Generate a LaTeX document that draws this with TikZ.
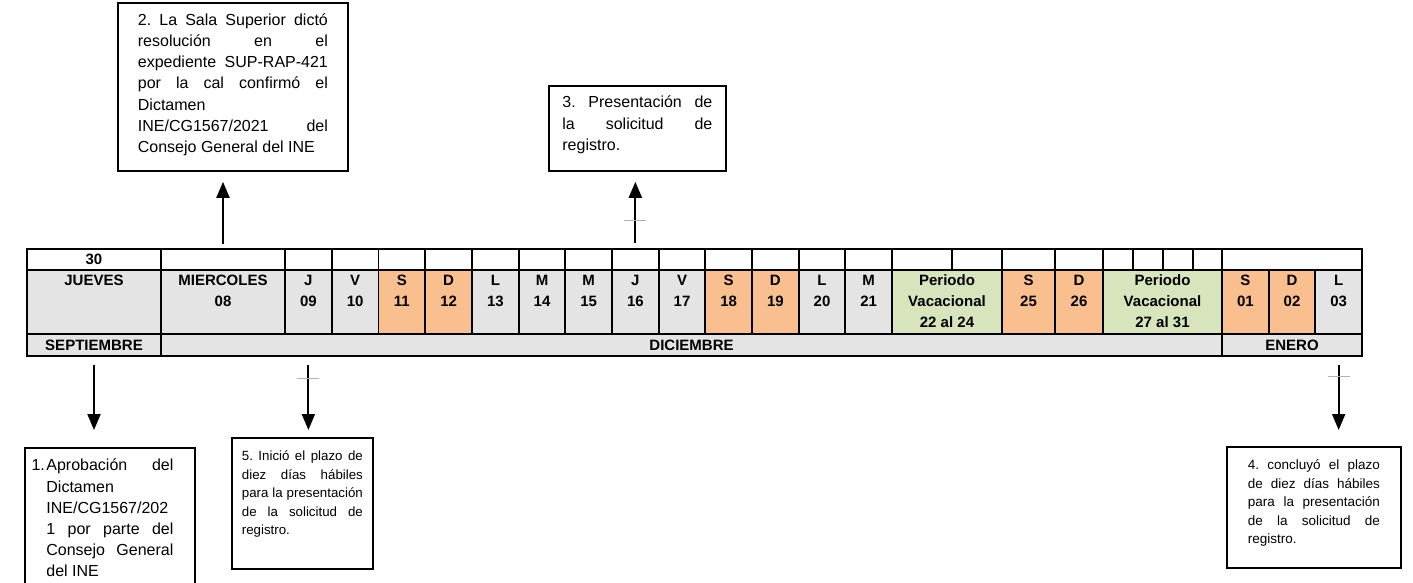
\documentclass[tikz,border=0pt]{standalone}
\usepackage{fontspec}
\setmainfont{Liberation Sans}
\usetikzlibrary{arrows.meta,positioning}
\definecolor{grisdia}{HTML}{E4E4E4}
\definecolor{findesemana}{HTML}{FABF8F}
\definecolor{vacaciones}{HTML}{D7E4BC}
\frenchspacing
\tolerance=10000
\hyphenpenalty=10000

\begin{document}
\begin{tikzpicture}[x=1pt,y=-1pt,cell/.style={draw,line width=1.9pt,inner sep=0pt,outer sep=0pt,font=\fontsize{15}{21}\selectfont\bfseries},daytxt/.style={anchor=north,inner sep=0pt,align=center,yshift=-4.6pt,font=\fontsize{15}{21}\selectfont\bfseries},tbox/.style={draw,line width=1.8pt,anchor=north west,align=justify,inner ysep=0pt,text height=23pt},arr/.style={-{Triangle[width=13pt,length=16pt]},line width=2pt},tick/.style={gray!60,line width=0.8pt}]
\useasboundingbox (0,0) rectangle (1413,583);
\clip (0,0) rectangle (1413,583);
\node[cell,minimum width=134pt,minimum height=21pt] (w0) at (94,259.5) {30};
\foreach \xa/\xb [count=\i] in {161/285,285/331.75,331.75/378.5,378.5/425.25,425.25/472,472/518.7,518.7/565.3,565.3/612,612/658.7,658.7/705.3,705.3/752,752/798.7,798.7/845.3,845.3/892,892/952,952/1002,1002/1055,1055/1103,1103/1133,1133/1163,1163/1193,1193/1222,1222/1362}
  \node[cell,minimum width={\xb-\xa},minimum height=21pt] (w\i) at ({(\xa+\xb)/2},259.5) {};
\foreach \xa/\xb/\col/\txt [count=\i from 0] in {27/161/grisdia/JUEVES,161/285/grisdia/{MIERCOLES\\08},285/331.75/grisdia/{J\\09},331.75/378.5/grisdia/{V\\10},378.5/425.25/findesemana/{S\\11},425.25/472/findesemana/{D\\12},472/518.7/grisdia/{L\\13},518.7/565.3/grisdia/{M\\14},565.3/612/grisdia/{M\\15},612/658.7/grisdia/{J\\16},658.7/705.3/grisdia/{V\\17},705.3/752/findesemana/{S\\18},752/798.7/findesemana/{D\\19},798.7/845.3/grisdia/{L\\20},845.3/892/grisdia/{M\\21},892/1002/vacaciones/{Periodo\\Vacacional\\22 al 24},1002/1055/findesemana/{S\\25},1055/1103/findesemana/{D\\26},1103/1222/vacaciones/{Periodo\\Vacacional\\27 al 31},1222/1268.7/findesemana/{S\\01},1268.7/1315.3/findesemana/{D\\02},1315.3/1362/grisdia/{L\\03}}{
  \node[cell,fill=\col,minimum width={\xb-\xa},minimum height=64pt] (d\i) at ({(\xa+\xb)/2},302) {};
  \node[daytxt] (t\i) at (d\i.north) {\txt};
}
\node[cell,fill=grisdia,minimum width=134pt,minimum height=22pt] (sept) at (94,345) {SEPTIEMBRE};
\node[cell,fill=grisdia,minimum width=1061pt,minimum height=22pt] (dic) at (691.5,345) {DICIEMBRE};
\node[cell,fill=grisdia,minimum width=140pt,minimum height=22pt] (ene) at (1292,345) {ENERO};

\node[tbox,font=\fontsize{16}{21.2}\selectfont,text width=190pt,inner xsep=20pt,text height=22.5pt,text depth=145.5pt] (b2) at (117,2) {2. La Sala Superior dictó\linebreak resolución en el\linebreak expediente SUP-RAP-421\linebreak por la cal confirmó el\linebreak Dictamen\newline INE/CG1567/2021 del\linebreak Consejo General del INE};
\node[tbox,font=\fontsize{16}{21.2}\selectfont,text width=150pt,inner xsep=13.5pt,text height=22pt,text depth=63pt] (b3) at (548,85) {3. Presentación de\linebreak la solicitud de\linebreak registro.};
\node[tbox,font=\fontsize{16}{21.2}\selectfont,text width=127pt,inner xsep=21.5pt,text depth=150pt] (b1) at (24,447) {\llap{1.\hspace{1.5pt}}Aprobación del\linebreak Dictamen\newline INE/CG1567/202\newline 1 por parte del\linebreak Consejo General\linebreak del INE};
\node[tbox,font=\fontsize{13.3}{18.5}\selectfont,text width=121pt,inner xsep=10pt,text depth=108pt] (b5) at (231,437) {5. Inició el plazo de\linebreak diez días hábiles\linebreak para la presentación\linebreak de la solicitud de\linebreak registro.};
\node[tbox,font=\fontsize{13.5}{18.5}\selectfont,text width=132pt,inner xsep=21pt,text depth=98pt] (b4) at (1226,446) {4. concluyó el plazo\linebreak de diez días hábiles\linebreak para la presentación\linebreak de la solicitud de\linebreak registro.};

\draw[arr,shorten <=5pt,shorten >=10pt] (w1.north) -- (w1.north |- b2.south);
\draw[arr,shorten <=6pt,shorten >=10pt] (w9.north) -- coordinate[pos=0.37] (k3) (w9.north |- b3.south);
\draw[tick] ([xshift=-11pt]k3) -- ([xshift=11pt]k3);
\draw[arr,shorten <=9pt,shorten >=17pt] (sept.south) -- (sept.south |- b1.north);
\draw[arr,shorten <=9pt,shorten >=7pt] (d2 |- dic.south) -- coordinate[pos=0.28] (k5) (d2 |- b5.north);
\draw[tick] ([xshift=-11pt]k5) -- ([xshift=11pt]k5);
\draw[arr,shorten <=9pt,shorten >=16pt] (d21 |- ene.south) -- coordinate[pos=0.23] (k4) (d21 |- b4.north);
\draw[tick] ([xshift=-11pt]k4) -- ([xshift=11pt]k4);
\end{tikzpicture}
\end{document}
